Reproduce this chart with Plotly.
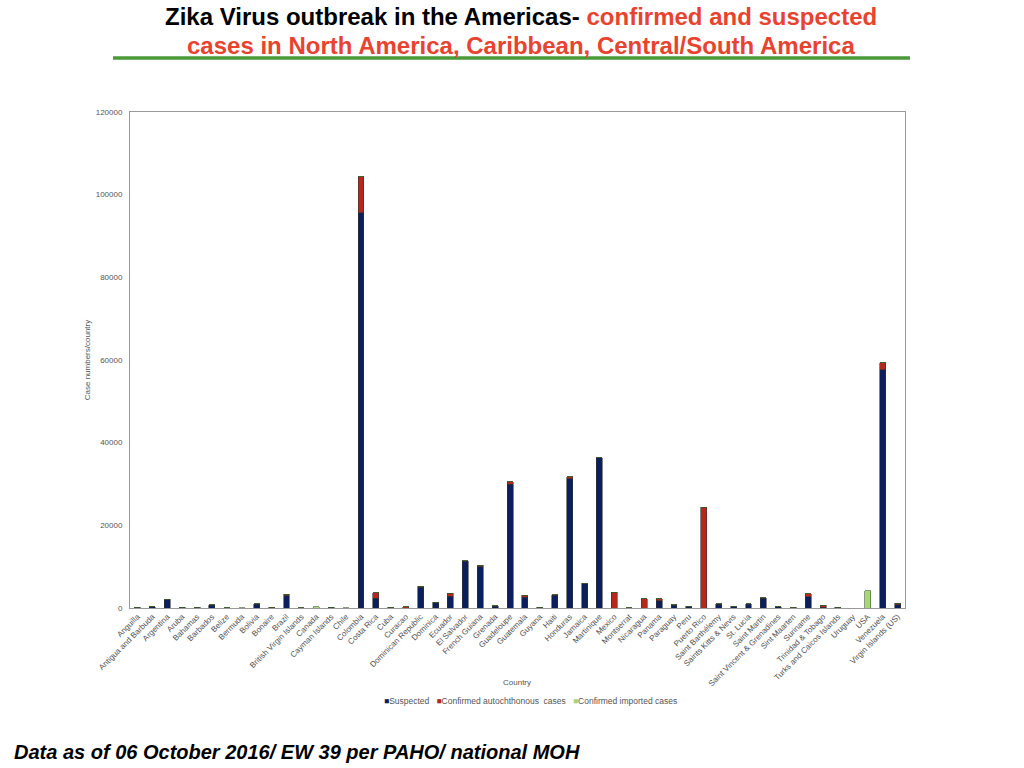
import plotly.graph_objects as go

countries = [
    "Anguilla", "Antigua and Barbuda", "Argentina", "Aruba", "Bahamas", "Barbados",
    "Belize", "Bermuda", "Bolivia", "Bonaire", "Brazil", "British Virgin Islands",
    "Canada", "Cayman Islands", "Chile", "Colombia", "Costa Rica", "Cuba", "Curacao",
    "Dominican Republic", "Dominica", "Ecuador", "El Salvador", "French Guiana",
    "Grenada", "Guadeloupe", "Guatemala", "Guyana", "Haiti", "Honduras", "Jamaica",
    "Martinique", "Mexico", "Montserrat", "Nicaragua", "Panama", "Paraguay", "Peru",
    "Puerto Rico", "Saint Barthélemy", "Saints Kitts & Nevis", "St. Lucia",
    "Saint Martin", "Saint Vincent & Grenadines", "Sint Maarten", "Suriname",
    "Trinidad & Tobago", "Turks and Caicos Islands", "Uruguay", "USA", "Venezuela",
    "Virgin Islands (US)",
]

suspected = [
    200, 300, 2100, 200, 200, 700,
    0, 0, 900, 0, 3000, 0,
    0, 150, 0, 95600, 2400, 150, 0,
    5000, 1300, 2800, 11300, 10000,
    450, 30000, 2600, 0, 3100, 31300, 5900,
    36300, 0, 0, 0, 1700, 650, 350,
    0, 850, 250, 850,
    2300, 250, 0, 2700,
    150, 150, 0, 0, 57600,
    800,
]

confirmed_autochthonous = [
    40, 20, 50, 40, 25, 100,
    120, 0, 100, 150, 350, 120,
    0, 40, 0, 8700, 1300, 50, 300,
    250, 80, 800, 150, 400,
    80, 500, 450, 150, 100, 400, 100,
    50, 3870, 20, 2200, 500, 150, 130,
    24360, 120, 150, 120,
    200, 100, 200, 750,
    500, 50, 0, 0, 1770,
    400,
]

confirmed_imported = [
    0, 0, 0, 0, 0, 0,
    0, 40, 0, 0, 0, 0,
    350, 0, 30, 0, 0, 0, 0,
    0, 0, 0, 0, 0,
    0, 0, 0, 0, 0, 0, 0,
    0, 0, 0, 0, 0, 0, 0,
    0, 0, 0, 0,
    0, 0, 0, 0,
    0, 0, 0, 4190, 0,
    0,
]

series_names = ["Suspected", "Confirmed autochthonous  cases", "Confirmed imported cases"]
series_colors = ["#0b1f5c", "#b7281c", "#a6d679"]
series_edges = ["#333333", "#333333", "#3c5a28"]

y_ticks = [0, 20000, 40000, 60000, 80000, 100000, 120000]

# Screen-space plot box
PL, PT, PW, PH = 130, 112, 775, 496


def px(sx):
    return (sx - PL) / PW


def py(sy):
    return (PT + PH - sy) / PH


fig = go.Figure()
for name, vals, col, edge in zip(series_names,
                                 [suspected, confirmed_autochthonous, confirmed_imported],
                                 series_colors, series_edges):
    fig.add_trace(go.Bar(
        name=name, x=countries, y=vals, showlegend=False,
        marker=dict(color=col, line=dict(color=edge, width=0.6)),
    ))

fig.update_layout(
    width=1024, height=768,
    barmode="stack", bargap=0.6,
    paper_bgcolor="white", plot_bgcolor="white",
    margin=dict(l=PL, r=1024 - PL - PW, t=PT, b=768 - PT - PH, autoexpand=False),
    font=dict(family="Liberation Sans, Arial, sans-serif", color="#555555", size=8),
    showlegend=False,
    xaxis=dict(
        tickangle=-45, showgrid=False, showline=True, linecolor="#999999", linewidth=1,
        mirror=True, tickfont=dict(size=8, color="#505050"), ticks="",
        automargin=False,
    ),
    yaxis=dict(
        range=[0, 120000], tickvals=y_ticks, ticktext=[str(v) for v in y_ticks],
        showgrid=False, showline=True, linecolor="#999999", linewidth=1, mirror=True,
        tickfont=dict(size=8, color="#555555"), ticks="", zeroline=False,
        ticklabelstandoff=5,
        title=dict(text="Case numbers/country", font=dict(size=8, color="#555555"), standoff=3),
        automargin=False,
    ),
)

# x-axis title
fig.add_annotation(text="Country", xref="paper", yref="paper", x=px(517), y=py(682),
                   showarrow=False, font=dict(size=8, color="#555555"),
                   xanchor="center", yanchor="middle")

# Legend row
legend_html = "   ".join(
    f"<span style='color:{c}'>■</span>{n}" for n, c in zip(series_names, series_colors)
)
fig.add_annotation(text=legend_html, xref="paper", yref="paper", x=px(530), y=py(701),
                   showarrow=False, font=dict(size=8.5, color="#555555"),
                   xanchor="center", yanchor="middle")

# Title
title_font = dict(family="Liberation Sans Narrow, Arial Narrow, Liberation Sans, sans-serif",
                  size=24, color="black")
fig.add_annotation(
    text="<b>Zika Virus outbreak in the Americas- <span style='color:#e8432e'>confirmed and suspected</span></b>",
    xref="paper", yref="paper", x=px(521), y=py(17),
    showarrow=False, xanchor="center", yanchor="middle", font=title_font,
)
fig.add_annotation(
    text="<b>cases in North America, Caribbean, Central/South America</b>",
    xref="paper", yref="paper", x=px(521), y=py(45),
    showarrow=False, xanchor="center", yanchor="middle",
    font=dict(title_font, color="#e8432e"),
)

# Green separator line
fig.add_shape(type="line", xref="paper", yref="paper",
              x0=px(113), x1=px(910), y0=py(58), y1=py(58),
              line=dict(color="#4b9a38", width=3.5))

# Footer note
fig.add_annotation(
    text="<b><i>Data as of 06 October 2016/ EW 39 per PAHO/ national MOH</i></b>",
    xref="paper", yref="paper", x=px(12), y=py(752),
    showarrow=False, xanchor="left", yanchor="middle",
    font=dict(family="Liberation Sans, Arial, sans-serif", size=20, color="black"),
)

fig.write_html("out.html", config={"displayModeBar": False},
               post_script="document.body.style.margin='0px';")
